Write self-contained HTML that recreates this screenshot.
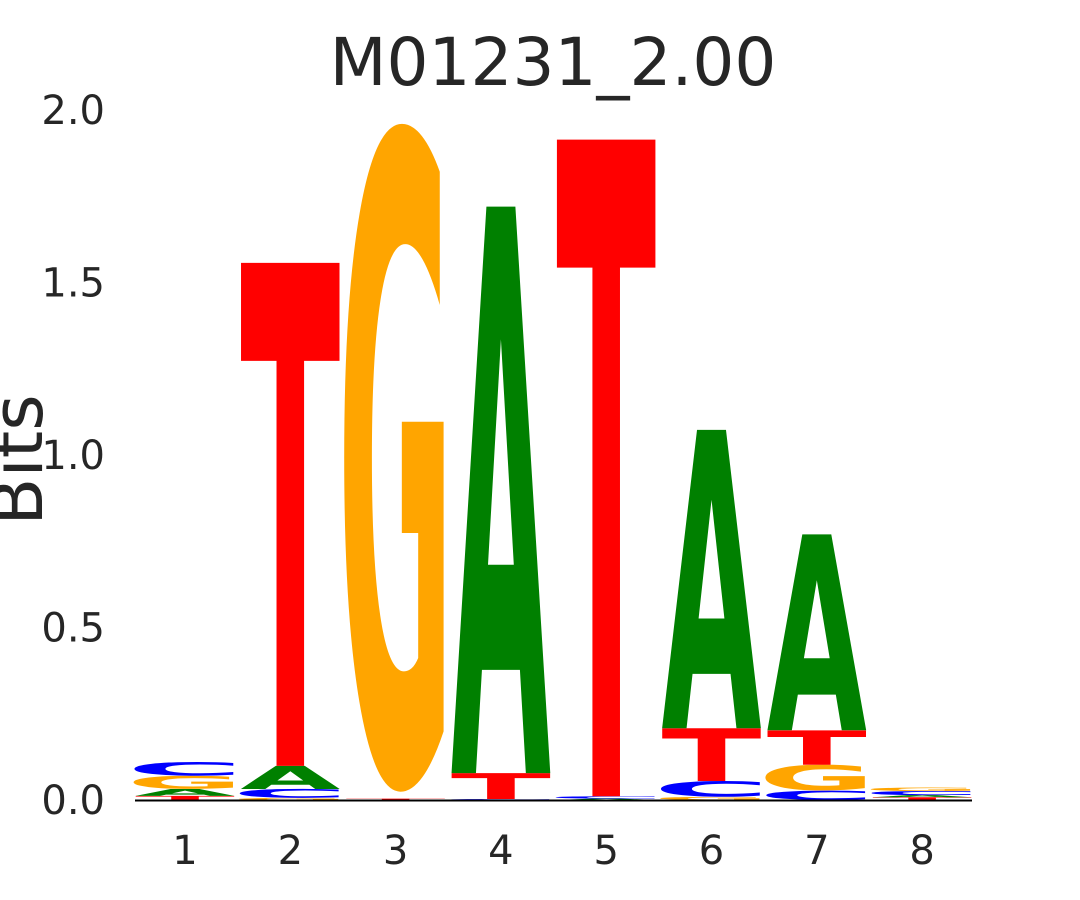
<!DOCTYPE html>
<html><head><meta charset="utf-8"><style>
html,body{margin:0;padding:0;background:#fff;overflow:hidden;width:1080px;height:900px;}
svg{display:block;font-family:"DejaVu Sans","Liberation Sans",sans-serif;}
</style></head><body>
<svg id="chart" width="1080" height="900" viewBox="0 0 1080 900">
<text x="553" y="85" font-size="66" text-anchor="middle" fill="#262626">M01231_2.00</text>
<text transform="translate(42,460) rotate(-90)" font-size="70" text-anchor="middle" fill="#262626">Bits</text>
<g id="yticks"></g><g id="xticks"></g><g id="letters"></g>
<line x1="135" y1="800.5" x2="972" y2="800.5" stroke="#000" stroke-width="2"/>
</svg>
<script>
const positions=[1,2,3,4,5,6,7,8];
// per column, stacked bottom->top: [letter, bits]
const col1=[["T",0.012],["A",0.02],["G",0.038],["C",0.04]];
const col2=[["G",0.006],["C",0.026],["A",0.067],["T",1.458]];
const col3=[["T",0.004],["G",1.945]];
const col4=[["C",0.003],["T",0.075],["A",1.642]];
const col5=[["A",0.004],["C",0.007],["T",1.903]];
const col6=[["G",0.009],["C",0.046],["T",0.153],["A",0.865]];
const col7=[["C",0.027],["G",0.075],["T",0.1],["A",0.568]];
const col8=[["T",0.008],["A",0.006],["C",0.012],["G",0.01]];
const columns=[col1,col2,col3,col4,col5,col6,col7,col8];
const yTicks=[0,0.5,1,1.5,2];
const yTickLabels=["0.0","0.5","1.0","1.5","2.0"];
const colors={A:"#008000",C:"#0000ff",G:"#ffa500",T:"#ff0000"};
const NS="http://www.w3.org/2000/svg";
const y=v=>800-v*345;
const xc=i=>185+(i)*105.3;
const colW=100;
const yt=document.getElementById('yticks');
yTicks.forEach((v,i)=>{const t=document.createElementNS(NS,'text');


t.setAttribute('x',105);t.setAttribute('y',y(v)+14);t.setAttribute('font-size',40);
t.setAttribute('text-anchor','end');t.setAttribute('fill','#262626');t.textContent=yTickLabels[i];yt.appendChild(t);});
const xt=document.getElementById('xticks');
positions.forEach((p,i)=>{const t=document.createElementNS(NS,'text');


t.setAttribute('x',xc(i));t.setAttribute('y',864);t.setAttribute('font-size',40);
t.setAttribute('text-anchor','middle');t.setAttribute('fill','#262626');t.textContent=p;xt.appendChild(t);});
const lg=document.getElementById('letters');
const FS=100;
columns.forEach((col,i)=>{let acc=0;col.forEach(([L,h])=>{
const bot=y(acc),top=y(acc+h);acc+=h;const hp=bot-top;if(hp<=0)return;
const round=(L==="G"||L==="C");
const cap=round?76:72.9;
const sc=hp/cap;
const base=round?bot-2.2*sc:bot;
const tl=round?117:colW;
const off=round?8.5:0;
const t=document.createElementNS(NS,'text');


t.setAttribute('x',0);t.setAttribute('y',0);t.setAttribute('font-size',FS);t.setAttribute('font-weight','bold');
t.setAttribute('textLength',tl);t.setAttribute('lengthAdjust','spacingAndGlyphs');
t.setAttribute('fill',colors[L]);
t.setAttribute('transform',`translate(${xc(i)-colW/2-off},${base}) scale(1,${sc})`);
t.textContent=L;lg.appendChild(t);});});
</script>
</body></html>
